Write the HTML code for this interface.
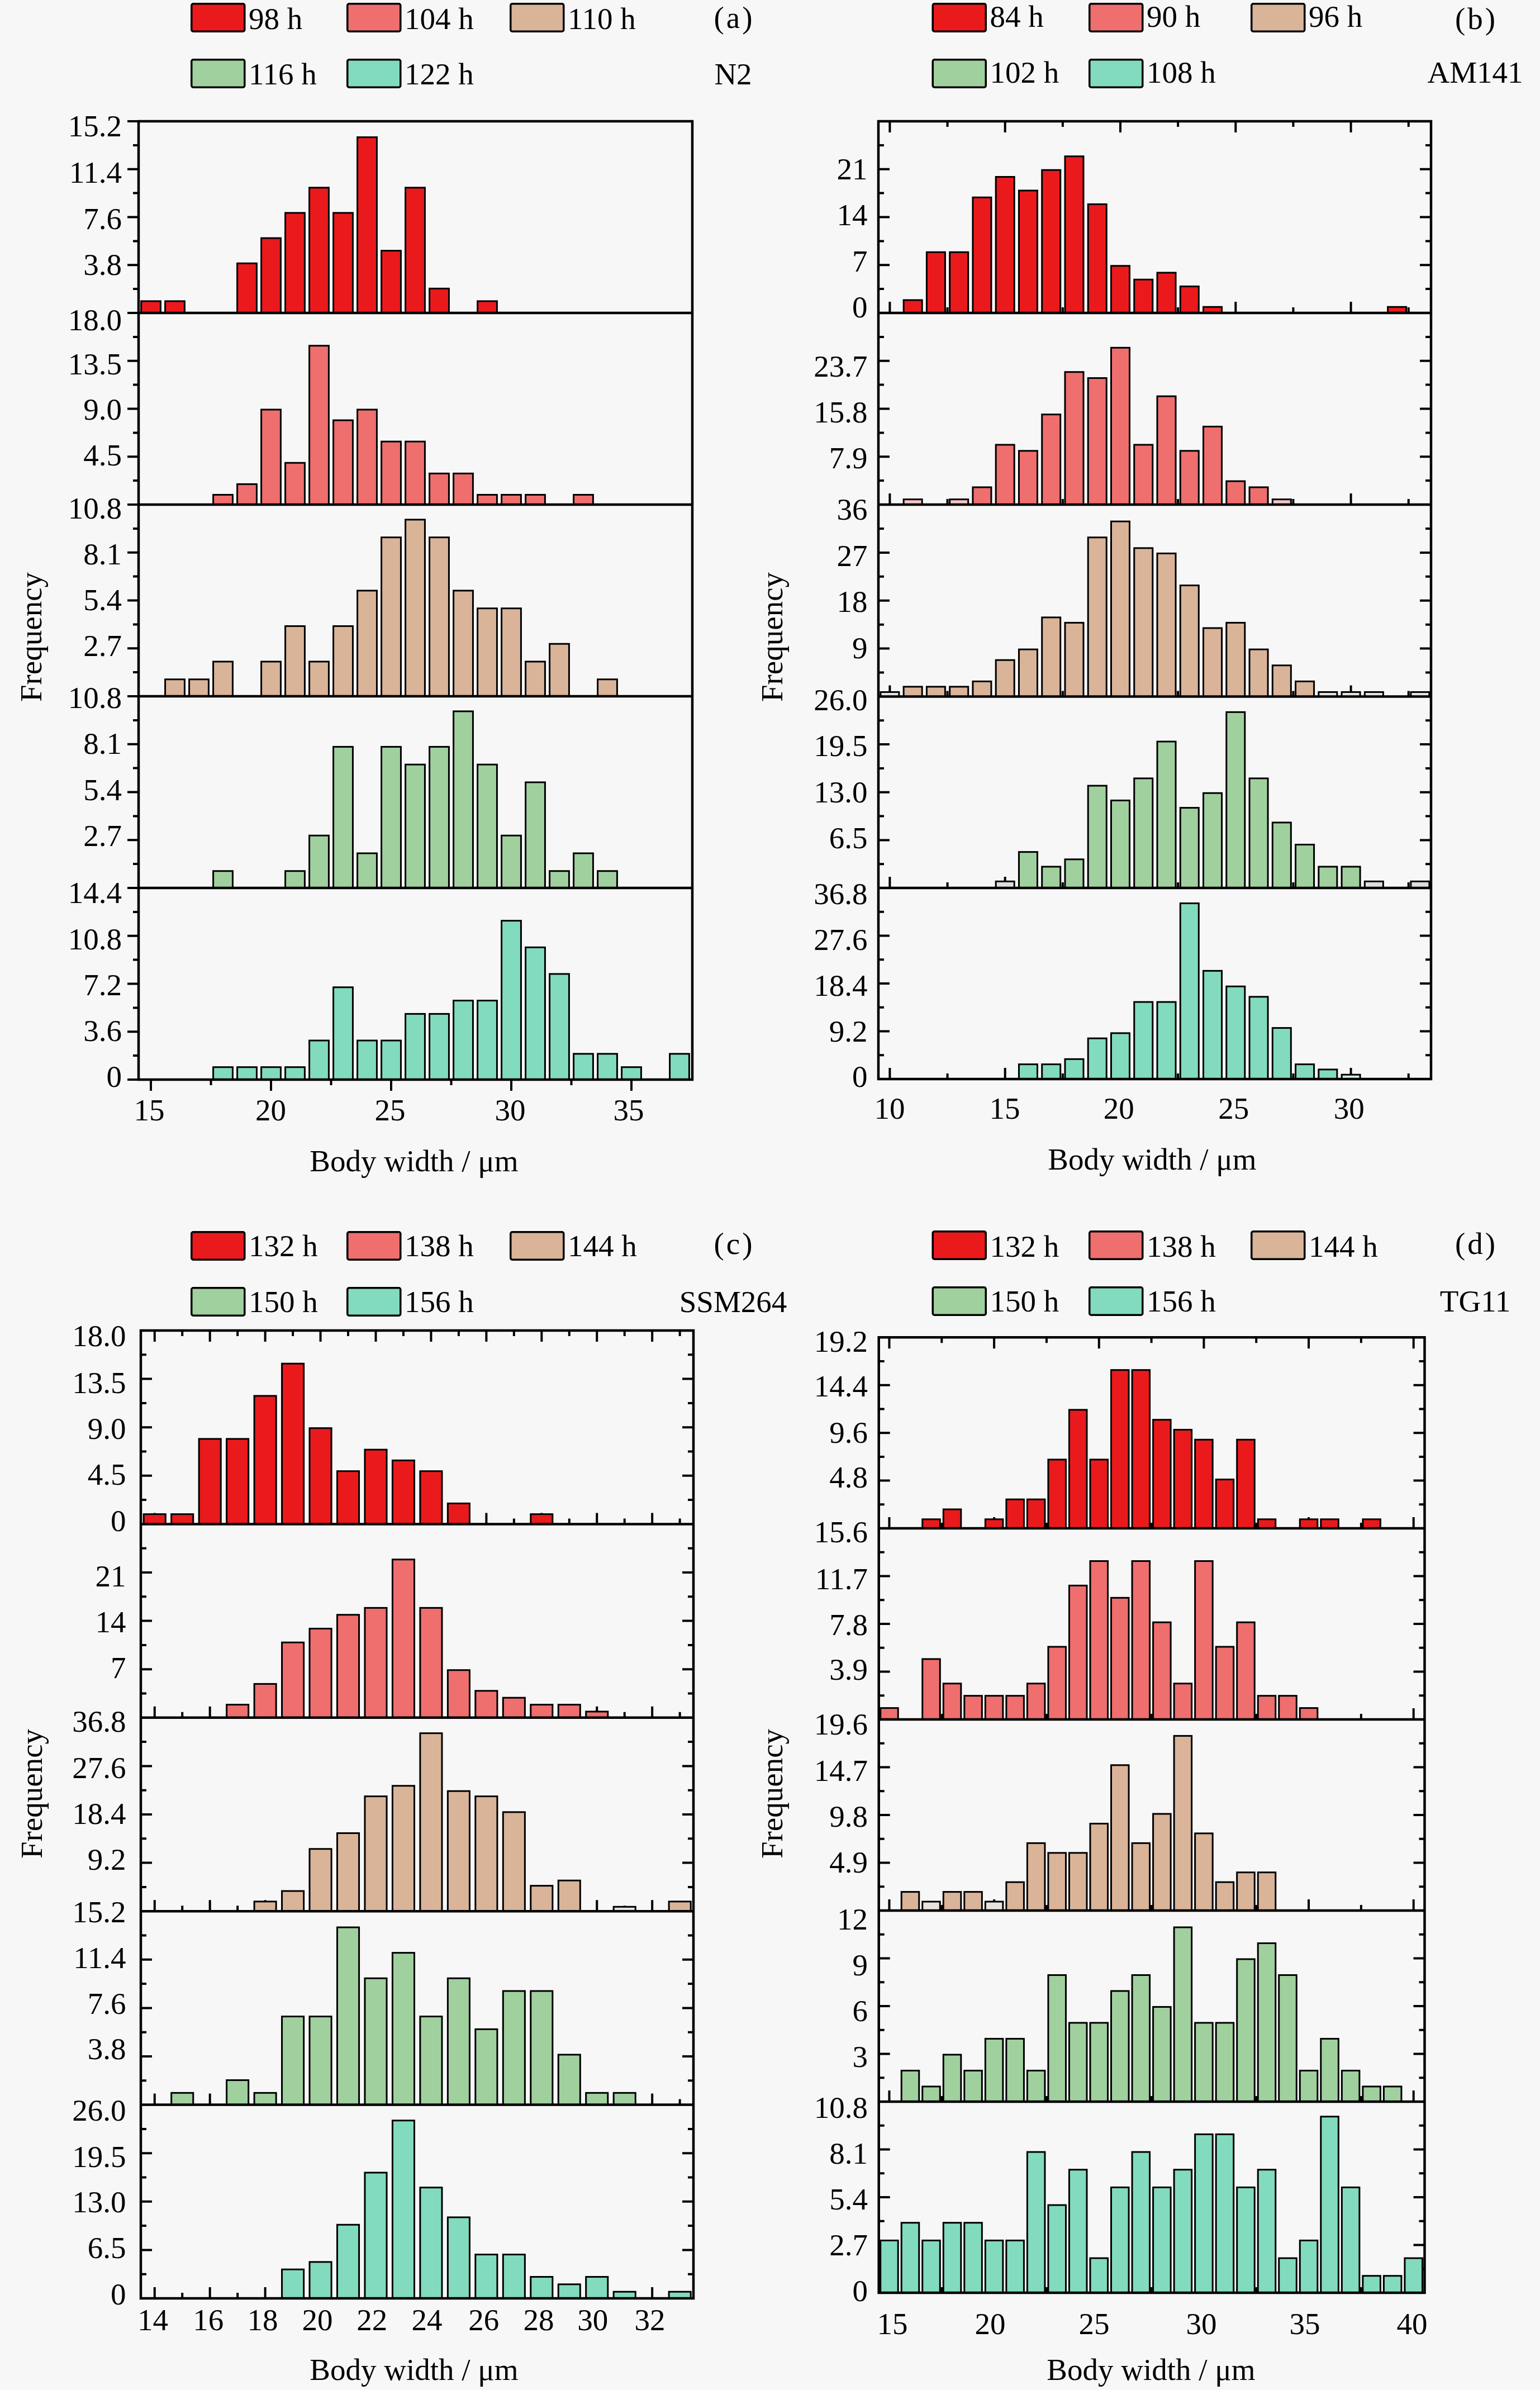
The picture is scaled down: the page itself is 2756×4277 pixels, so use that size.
<!DOCTYPE html><html><head><meta charset="utf-8"><style>html,body{margin:0;padding:0;background:#f7f7f7;}svg{display:block}</style></head><body>
<svg width="2756" height="4277" viewBox="0 0 2756 4277" style="font-family:'Liberation Serif',serif;font-size:55px">
<rect width="2756" height="4277" fill="#f7f7f7"/>
<path d="M248 560H228M248 517.12H238M248 474.25H228M248 431.38H238M248 388.5H228M248 345.62H238M248 302.75H228M248 259.88H238M248 217H228M248 903H228M248 860.12H238M248 817.25H228M248 774.38H238M248 731.5H228M248 688.62H238M248 645.75H228M248 602.88H238M248 560H228M248 1246H228M248 1203.12H238M248 1160.25H228M248 1117.38H238M248 1074.5H228M248 1031.62H238M248 988.75H228M248 945.88H238M248 903H228M248 1589H228M248 1546.12H238M248 1503.25H228M248 1460.38H238M248 1417.5H228M248 1374.62H238M248 1331.75H228M248 1288.88H238M248 1246H228M248 1932H228M248 1889.12H238M248 1846.25H228M248 1803.38H238M248 1760.5H228M248 1717.62H238M248 1674.75H228M248 1631.88H238M248 1589H228M270 1932V1952M485 1932V1952M700 1932V1952M915 1932V1952M1130 1932V1952M377.5 1932V1942M592.5 1932V1942M807.5 1932V1942M1022.5 1932V1942" stroke="#000" stroke-width="4" fill="none"/>
<rect x="252.59" y="538.93" width="34.83" height="21.07" fill="#ea1a1c" stroke="#000" stroke-width="3"/>
<rect x="295.58" y="538.93" width="34.83" height="21.07" fill="#ea1a1c" stroke="#000" stroke-width="3"/>
<rect x="424.58" y="471.24" width="34.83" height="88.76" fill="#ea1a1c" stroke="#000" stroke-width="3"/>
<rect x="467.58" y="426.11" width="34.83" height="133.89" fill="#ea1a1c" stroke="#000" stroke-width="3"/>
<rect x="510.58" y="380.97" width="34.83" height="179.03" fill="#ea1a1c" stroke="#000" stroke-width="3"/>
<rect x="553.59" y="335.84" width="34.83" height="224.16" fill="#ea1a1c" stroke="#000" stroke-width="3"/>
<rect x="596.59" y="380.97" width="34.83" height="179.03" fill="#ea1a1c" stroke="#000" stroke-width="3"/>
<rect x="639.59" y="245.58" width="34.83" height="314.42" fill="#ea1a1c" stroke="#000" stroke-width="3"/>
<rect x="682.59" y="448.67" width="34.83" height="111.33" fill="#ea1a1c" stroke="#000" stroke-width="3"/>
<rect x="725.59" y="335.84" width="34.83" height="224.16" fill="#ea1a1c" stroke="#000" stroke-width="3"/>
<rect x="768.59" y="516.37" width="34.83" height="43.63" fill="#ea1a1c" stroke="#000" stroke-width="3"/>
<rect x="854.59" y="538.93" width="34.83" height="21.07" fill="#ea1a1c" stroke="#000" stroke-width="3"/>
<rect x="381.58" y="885.44" width="34.83" height="17.56" fill="#ef6e6e" stroke="#000" stroke-width="3"/>
<rect x="424.58" y="866.39" width="34.83" height="36.61" fill="#ef6e6e" stroke="#000" stroke-width="3"/>
<rect x="467.58" y="733" width="34.83" height="170" fill="#ef6e6e" stroke="#000" stroke-width="3"/>
<rect x="510.58" y="828.28" width="34.83" height="74.72" fill="#ef6e6e" stroke="#000" stroke-width="3"/>
<rect x="553.59" y="618.67" width="34.83" height="284.33" fill="#ef6e6e" stroke="#000" stroke-width="3"/>
<rect x="596.59" y="752.06" width="34.83" height="150.94" fill="#ef6e6e" stroke="#000" stroke-width="3"/>
<rect x="639.59" y="733" width="34.83" height="170" fill="#ef6e6e" stroke="#000" stroke-width="3"/>
<rect x="682.59" y="790.17" width="34.83" height="112.83" fill="#ef6e6e" stroke="#000" stroke-width="3"/>
<rect x="725.59" y="790.17" width="34.83" height="112.83" fill="#ef6e6e" stroke="#000" stroke-width="3"/>
<rect x="768.59" y="847.33" width="34.83" height="55.67" fill="#ef6e6e" stroke="#000" stroke-width="3"/>
<rect x="811.59" y="847.33" width="34.83" height="55.67" fill="#ef6e6e" stroke="#000" stroke-width="3"/>
<rect x="854.59" y="885.44" width="34.83" height="17.56" fill="#ef6e6e" stroke="#000" stroke-width="3"/>
<rect x="897.59" y="885.44" width="34.83" height="17.56" fill="#ef6e6e" stroke="#000" stroke-width="3"/>
<rect x="940.59" y="885.44" width="34.83" height="17.56" fill="#ef6e6e" stroke="#000" stroke-width="3"/>
<rect x="1026.59" y="885.44" width="34.83" height="17.56" fill="#ef6e6e" stroke="#000" stroke-width="3"/>
<rect x="295.58" y="1215.74" width="34.83" height="30.26" fill="#d9b499" stroke="#000" stroke-width="3"/>
<rect x="338.58" y="1215.74" width="34.83" height="30.26" fill="#d9b499" stroke="#000" stroke-width="3"/>
<rect x="381.58" y="1183.98" width="34.83" height="62.02" fill="#d9b499" stroke="#000" stroke-width="3"/>
<rect x="467.58" y="1183.98" width="34.83" height="62.02" fill="#d9b499" stroke="#000" stroke-width="3"/>
<rect x="510.58" y="1120.46" width="34.83" height="125.54" fill="#d9b499" stroke="#000" stroke-width="3"/>
<rect x="553.59" y="1183.98" width="34.83" height="62.02" fill="#d9b499" stroke="#000" stroke-width="3"/>
<rect x="596.59" y="1120.46" width="34.83" height="125.54" fill="#d9b499" stroke="#000" stroke-width="3"/>
<rect x="639.59" y="1056.94" width="34.83" height="189.06" fill="#d9b499" stroke="#000" stroke-width="3"/>
<rect x="682.59" y="961.67" width="34.83" height="284.33" fill="#d9b499" stroke="#000" stroke-width="3"/>
<rect x="725.59" y="929.91" width="34.83" height="316.09" fill="#d9b499" stroke="#000" stroke-width="3"/>
<rect x="768.59" y="961.67" width="34.83" height="284.33" fill="#d9b499" stroke="#000" stroke-width="3"/>
<rect x="811.59" y="1056.94" width="34.83" height="189.06" fill="#d9b499" stroke="#000" stroke-width="3"/>
<rect x="854.59" y="1088.7" width="34.83" height="157.3" fill="#d9b499" stroke="#000" stroke-width="3"/>
<rect x="897.59" y="1088.7" width="34.83" height="157.3" fill="#d9b499" stroke="#000" stroke-width="3"/>
<rect x="940.59" y="1183.98" width="34.83" height="62.02" fill="#d9b499" stroke="#000" stroke-width="3"/>
<rect x="983.59" y="1152.22" width="34.83" height="93.78" fill="#d9b499" stroke="#000" stroke-width="3"/>
<rect x="1069.59" y="1215.74" width="34.83" height="30.26" fill="#d9b499" stroke="#000" stroke-width="3"/>
<rect x="381.58" y="1558.74" width="34.83" height="30.26" fill="#a0d09e" stroke="#000" stroke-width="3"/>
<rect x="510.58" y="1558.74" width="34.83" height="30.26" fill="#a0d09e" stroke="#000" stroke-width="3"/>
<rect x="553.59" y="1495.22" width="34.83" height="93.78" fill="#a0d09e" stroke="#000" stroke-width="3"/>
<rect x="596.59" y="1336.43" width="34.83" height="252.57" fill="#a0d09e" stroke="#000" stroke-width="3"/>
<rect x="639.59" y="1526.98" width="34.83" height="62.02" fill="#a0d09e" stroke="#000" stroke-width="3"/>
<rect x="682.59" y="1336.43" width="34.83" height="252.57" fill="#a0d09e" stroke="#000" stroke-width="3"/>
<rect x="725.59" y="1368.19" width="34.83" height="220.81" fill="#a0d09e" stroke="#000" stroke-width="3"/>
<rect x="768.59" y="1336.43" width="34.83" height="252.57" fill="#a0d09e" stroke="#000" stroke-width="3"/>
<rect x="811.59" y="1272.91" width="34.83" height="316.09" fill="#a0d09e" stroke="#000" stroke-width="3"/>
<rect x="854.59" y="1368.19" width="34.83" height="220.81" fill="#a0d09e" stroke="#000" stroke-width="3"/>
<rect x="897.59" y="1495.22" width="34.83" height="93.78" fill="#a0d09e" stroke="#000" stroke-width="3"/>
<rect x="940.59" y="1399.94" width="34.83" height="189.06" fill="#a0d09e" stroke="#000" stroke-width="3"/>
<rect x="983.59" y="1558.74" width="34.83" height="30.26" fill="#a0d09e" stroke="#000" stroke-width="3"/>
<rect x="1026.59" y="1526.98" width="34.83" height="62.02" fill="#a0d09e" stroke="#000" stroke-width="3"/>
<rect x="1069.59" y="1558.74" width="34.83" height="30.26" fill="#a0d09e" stroke="#000" stroke-width="3"/>
<rect x="381.58" y="1909.68" width="34.83" height="22.32" fill="#82dbbe" stroke="#000" stroke-width="3"/>
<rect x="424.58" y="1909.68" width="34.83" height="22.32" fill="#82dbbe" stroke="#000" stroke-width="3"/>
<rect x="467.58" y="1909.68" width="34.83" height="22.32" fill="#82dbbe" stroke="#000" stroke-width="3"/>
<rect x="510.58" y="1909.68" width="34.83" height="22.32" fill="#82dbbe" stroke="#000" stroke-width="3"/>
<rect x="553.59" y="1862.04" width="34.83" height="69.96" fill="#82dbbe" stroke="#000" stroke-width="3"/>
<rect x="596.59" y="1766.76" width="34.83" height="165.24" fill="#82dbbe" stroke="#000" stroke-width="3"/>
<rect x="639.59" y="1862.04" width="34.83" height="69.96" fill="#82dbbe" stroke="#000" stroke-width="3"/>
<rect x="682.59" y="1862.04" width="34.83" height="69.96" fill="#82dbbe" stroke="#000" stroke-width="3"/>
<rect x="725.59" y="1814.4" width="34.83" height="117.6" fill="#82dbbe" stroke="#000" stroke-width="3"/>
<rect x="768.59" y="1814.4" width="34.83" height="117.6" fill="#82dbbe" stroke="#000" stroke-width="3"/>
<rect x="811.59" y="1790.58" width="34.83" height="141.42" fill="#82dbbe" stroke="#000" stroke-width="3"/>
<rect x="854.59" y="1790.58" width="34.83" height="141.42" fill="#82dbbe" stroke="#000" stroke-width="3"/>
<rect x="897.59" y="1647.67" width="34.83" height="284.33" fill="#82dbbe" stroke="#000" stroke-width="3"/>
<rect x="940.59" y="1695.31" width="34.83" height="236.69" fill="#82dbbe" stroke="#000" stroke-width="3"/>
<rect x="983.59" y="1742.94" width="34.83" height="189.06" fill="#82dbbe" stroke="#000" stroke-width="3"/>
<rect x="1026.59" y="1885.86" width="34.83" height="46.14" fill="#82dbbe" stroke="#000" stroke-width="3"/>
<rect x="1069.59" y="1885.86" width="34.83" height="46.14" fill="#82dbbe" stroke="#000" stroke-width="3"/>
<rect x="1112.59" y="1909.68" width="34.83" height="22.32" fill="#82dbbe" stroke="#000" stroke-width="3"/>
<rect x="1198.59" y="1885.86" width="34.83" height="46.14" fill="#82dbbe" stroke="#000" stroke-width="3"/>
<path d="M248 217H1239V1932H248ZM248 560H1239M248 903H1239M248 1246H1239M248 1589H1239" stroke="#000" stroke-width="4.5" fill="none" stroke-linejoin="miter"/>
<text x="218" y="243.8" text-anchor="end">15.2</text>
<text x="218" y="326.7" text-anchor="end">11.4</text>
<text x="218" y="409.5" text-anchor="end">7.6</text>
<text x="218" y="492" text-anchor="end">3.8</text>
<text x="218" y="591.1" text-anchor="end">18.0</text>
<text x="218" y="669.8" text-anchor="end">13.5</text>
<text x="218" y="751" text-anchor="end">9.0</text>
<text x="218" y="832.9" text-anchor="end">4.5</text>
<text x="218" y="927.9" text-anchor="end">10.8</text>
<text x="218" y="1009.7" text-anchor="end">8.1</text>
<text x="218" y="1091.7" text-anchor="end">5.4</text>
<text x="218" y="1173.7" text-anchor="end">2.7</text>
<text x="218" y="1267.4" text-anchor="end">10.8</text>
<text x="218" y="1349.4" text-anchor="end">8.1</text>
<text x="218" y="1431.9" text-anchor="end">5.4</text>
<text x="218" y="1514.3" text-anchor="end">2.7</text>
<text x="218" y="1616.3" text-anchor="end">14.4</text>
<text x="218" y="1699.1" text-anchor="end">10.8</text>
<text x="218" y="1781" text-anchor="end">7.2</text>
<text x="218" y="1863.1" text-anchor="end">3.6</text>
<text x="218" y="1944.7" text-anchor="end">0</text>
<text x="267" y="2005" text-anchor="middle">15</text>
<text x="484.6" y="2005" text-anchor="middle">20</text>
<text x="698" y="2005" text-anchor="middle">25</text>
<text x="913" y="2005" text-anchor="middle">30</text>
<text x="1125" y="2005" text-anchor="middle">35</text>
<text x="741" y="2096" text-anchor="middle">Body width / μm</text>
<text transform="translate(74 1140) rotate(-90)" text-anchor="middle">Frequency</text>
<rect x="342.75" y="6.75" width="95" height="49.5" rx="3" fill="#ea1a1c" stroke="#000" stroke-width="3.5"/>
<text x="445" y="52">98 h</text>
<rect x="621.75" y="6.75" width="95" height="49.5" rx="3" fill="#ef6e6e" stroke="#000" stroke-width="3.5"/>
<text x="724" y="52">104 h</text>
<rect x="913.75" y="6.75" width="95" height="49.5" rx="3" fill="#d9b499" stroke="#000" stroke-width="3.5"/>
<text x="1016" y="52">110 h</text>
<rect x="342.75" y="106.75" width="95" height="49.5" rx="3" fill="#a0d09e" stroke="#000" stroke-width="3.5"/>
<text x="445" y="151">116 h</text>
<rect x="621.75" y="106.75" width="95" height="49.5" rx="3" fill="#82dbbe" stroke="#000" stroke-width="3.5"/>
<text x="724" y="151">122 h</text>
<text x="1314" y="50" text-anchor="middle" letter-spacing="4">(a)</text>
<text x="1312" y="151" text-anchor="middle">N2</text>
<path d="M1572 517.12H1582M2561 517.12H2551M1572 474.25H1592M2561 474.25H2541M1572 431.38H1582M2561 431.38H2551M1572 388.5H1592M2561 388.5H2541M1572 345.62H1582M2561 345.62H2551M1572 302.75H1592M2561 302.75H2541M1572 259.88H1582M2561 259.88H2551M1592.4 560V540M1592.4 217V237M1798.7 560V540M1798.7 217V237M2005 560V540M2005 217V237M2211.3 560V540M2211.3 217V237M2417.6 560V540M2417.6 217V237M1695.55 560V550M1695.55 217V227M1901.85 560V550M1901.85 217V227M2108.15 560V550M2108.15 217V227M2314.45 560V550M2314.45 217V227M2520.75 560V550M2520.75 217V227M1572 860.12H1582M2561 860.12H2551M1572 817.25H1592M2561 817.25H2541M1572 774.38H1582M2561 774.38H2551M1572 731.5H1592M2561 731.5H2541M1572 688.62H1582M2561 688.62H2551M1572 645.75H1592M2561 645.75H2541M1572 602.88H1582M2561 602.88H2551M1592.4 903V883M1798.7 903V883M2005 903V883M2211.3 903V883M2417.6 903V883M1695.55 903V893M1901.85 903V893M2108.15 903V893M2314.45 903V893M2520.75 903V893M1572 1203.56H1582M2561 1203.56H2551M1572 1160.62H1592M2561 1160.62H2541M1572 1117.69H1582M2561 1117.69H2551M1572 1074.75H1592M2561 1074.75H2541M1572 1031.81H1582M2561 1031.81H2551M1572 988.88H1592M2561 988.88H2541M1572 945.94H1582M2561 945.94H2551M1592.4 1246.5V1226.5M1798.7 1246.5V1226.5M2005 1246.5V1226.5M2211.3 1246.5V1226.5M2417.6 1246.5V1226.5M1695.55 1246.5V1236.5M1901.85 1246.5V1236.5M2108.15 1246.5V1236.5M2314.45 1246.5V1236.5M2520.75 1246.5V1236.5M1572 1546.19H1582M2561 1546.19H2551M1572 1503.38H1592M2561 1503.38H2541M1572 1460.56H1582M2561 1460.56H2551M1572 1417.75H1592M2561 1417.75H2541M1572 1374.94H1582M2561 1374.94H2551M1572 1332.12H1592M2561 1332.12H2541M1572 1289.31H1582M2561 1289.31H2551M1592.4 1589V1569M1798.7 1589V1569M2005 1589V1569M2211.3 1589V1569M2417.6 1589V1569M1695.55 1589V1579M1901.85 1589V1579M2108.15 1589V1579M2314.45 1589V1579M2520.75 1589V1579M1572 1888.25H1582M2561 1888.25H2551M1572 1845.5H1592M2561 1845.5H2541M1572 1802.75H1582M2561 1802.75H2551M1572 1760H1592M2561 1760H2541M1572 1717.25H1582M2561 1717.25H2551M1572 1674.5H1592M2561 1674.5H2541M1572 1631.75H1582M2561 1631.75H2551M1592.4 1931V1911M1798.7 1931V1911M2005 1931V1911M2211.3 1931V1911M2417.6 1931V1911M1695.55 1931V1921M1901.85 1931V1921M2108.15 1931V1921M2314.45 1931V1921M2520.75 1931V1921" stroke="#000" stroke-width="4" fill="none"/>
<rect x="1617.16" y="537" width="33.01" height="23" fill="#ea1a1c" stroke="#000" stroke-width="3"/>
<rect x="1658.42" y="451.25" width="33.01" height="108.75" fill="#ea1a1c" stroke="#000" stroke-width="3"/>
<rect x="1699.68" y="451.25" width="33.01" height="108.75" fill="#ea1a1c" stroke="#000" stroke-width="3"/>
<rect x="1740.94" y="353.25" width="33.01" height="206.75" fill="#ea1a1c" stroke="#000" stroke-width="3"/>
<rect x="1782.2" y="316.5" width="33.01" height="243.5" fill="#ea1a1c" stroke="#000" stroke-width="3"/>
<rect x="1823.46" y="341" width="33.01" height="219" fill="#ea1a1c" stroke="#000" stroke-width="3"/>
<rect x="1864.72" y="304.25" width="33.01" height="255.75" fill="#ea1a1c" stroke="#000" stroke-width="3"/>
<rect x="1905.98" y="279.75" width="33.01" height="280.25" fill="#ea1a1c" stroke="#000" stroke-width="3"/>
<rect x="1947.24" y="365.5" width="33.01" height="194.5" fill="#ea1a1c" stroke="#000" stroke-width="3"/>
<rect x="1988.5" y="475.75" width="33.01" height="84.25" fill="#ea1a1c" stroke="#000" stroke-width="3"/>
<rect x="2029.76" y="500.25" width="33.01" height="59.75" fill="#ea1a1c" stroke="#000" stroke-width="3"/>
<rect x="2071.02" y="488" width="33.01" height="72" fill="#ea1a1c" stroke="#000" stroke-width="3"/>
<rect x="2112.28" y="512.5" width="33.01" height="47.5" fill="#ea1a1c" stroke="#000" stroke-width="3"/>
<rect x="2153.54" y="549.25" width="33.01" height="10.75" fill="#ea1a1c" stroke="#000" stroke-width="3"/>
<rect x="2483.62" y="549.25" width="33.01" height="10.75" fill="#ea1a1c" stroke="#000" stroke-width="3"/>
<rect x="1617.16" y="893.65" width="33.01" height="9.35" fill="#f4c4c4" stroke="#000" stroke-width="3"/>
<rect x="1699.68" y="893.65" width="33.01" height="9.35" fill="#f4c4c4" stroke="#000" stroke-width="3"/>
<rect x="1740.94" y="871.94" width="33.01" height="31.06" fill="#ef6e6e" stroke="#000" stroke-width="3"/>
<rect x="1782.2" y="795.96" width="33.01" height="107.04" fill="#ef6e6e" stroke="#000" stroke-width="3"/>
<rect x="1823.46" y="806.81" width="33.01" height="96.19" fill="#ef6e6e" stroke="#000" stroke-width="3"/>
<rect x="1864.72" y="741.68" width="33.01" height="161.32" fill="#ef6e6e" stroke="#000" stroke-width="3"/>
<rect x="1905.98" y="665.7" width="33.01" height="237.3" fill="#ef6e6e" stroke="#000" stroke-width="3"/>
<rect x="1947.24" y="676.56" width="33.01" height="226.44" fill="#ef6e6e" stroke="#000" stroke-width="3"/>
<rect x="1988.5" y="622.28" width="33.01" height="280.72" fill="#ef6e6e" stroke="#000" stroke-width="3"/>
<rect x="2029.76" y="795.96" width="33.01" height="107.04" fill="#ef6e6e" stroke="#000" stroke-width="3"/>
<rect x="2071.02" y="709.12" width="33.01" height="193.88" fill="#ef6e6e" stroke="#000" stroke-width="3"/>
<rect x="2112.28" y="806.81" width="33.01" height="96.19" fill="#ef6e6e" stroke="#000" stroke-width="3"/>
<rect x="2153.54" y="763.39" width="33.01" height="139.61" fill="#ef6e6e" stroke="#000" stroke-width="3"/>
<rect x="2194.8" y="861.08" width="33.01" height="41.92" fill="#ef6e6e" stroke="#000" stroke-width="3"/>
<rect x="2236.06" y="871.94" width="33.01" height="31.06" fill="#ef6e6e" stroke="#000" stroke-width="3"/>
<rect x="2277.32" y="893.65" width="33.01" height="9.35" fill="#f4c4c4" stroke="#000" stroke-width="3"/>
<rect x="1575.9" y="1238.46" width="33.01" height="8.04" fill="#e8e2dc" stroke="#000" stroke-width="3"/>
<rect x="1617.16" y="1228.92" width="33.01" height="17.58" fill="#d9b499" stroke="#000" stroke-width="3"/>
<rect x="1658.42" y="1228.92" width="33.01" height="17.58" fill="#d9b499" stroke="#000" stroke-width="3"/>
<rect x="1699.68" y="1228.92" width="33.01" height="17.58" fill="#d9b499" stroke="#000" stroke-width="3"/>
<rect x="1740.94" y="1219.38" width="33.01" height="27.12" fill="#d9b499" stroke="#000" stroke-width="3"/>
<rect x="1782.2" y="1181.21" width="33.01" height="65.29" fill="#d9b499" stroke="#000" stroke-width="3"/>
<rect x="1823.46" y="1162.12" width="33.01" height="84.38" fill="#d9b499" stroke="#000" stroke-width="3"/>
<rect x="1864.72" y="1104.88" width="33.01" height="141.62" fill="#d9b499" stroke="#000" stroke-width="3"/>
<rect x="1905.98" y="1114.42" width="33.01" height="132.08" fill="#d9b499" stroke="#000" stroke-width="3"/>
<rect x="1947.24" y="961.75" width="33.01" height="284.75" fill="#d9b499" stroke="#000" stroke-width="3"/>
<rect x="1988.5" y="933.12" width="33.01" height="313.38" fill="#d9b499" stroke="#000" stroke-width="3"/>
<rect x="2029.76" y="980.83" width="33.01" height="265.67" fill="#d9b499" stroke="#000" stroke-width="3"/>
<rect x="2071.02" y="990.38" width="33.01" height="256.12" fill="#d9b499" stroke="#000" stroke-width="3"/>
<rect x="2112.28" y="1047.62" width="33.01" height="198.88" fill="#d9b499" stroke="#000" stroke-width="3"/>
<rect x="2153.54" y="1123.96" width="33.01" height="122.54" fill="#d9b499" stroke="#000" stroke-width="3"/>
<rect x="2194.8" y="1114.42" width="33.01" height="132.08" fill="#d9b499" stroke="#000" stroke-width="3"/>
<rect x="2236.06" y="1162.12" width="33.01" height="84.38" fill="#d9b499" stroke="#000" stroke-width="3"/>
<rect x="2277.32" y="1190.75" width="33.01" height="55.75" fill="#d9b499" stroke="#000" stroke-width="3"/>
<rect x="2318.58" y="1219.38" width="33.01" height="27.12" fill="#d9b499" stroke="#000" stroke-width="3"/>
<rect x="2359.84" y="1238.46" width="33.01" height="8.04" fill="#e8e2dc" stroke="#000" stroke-width="3"/>
<rect x="2401.1" y="1238.46" width="33.01" height="8.04" fill="#e8e2dc" stroke="#000" stroke-width="3"/>
<rect x="2442.36" y="1238.46" width="33.01" height="8.04" fill="#e8e2dc" stroke="#000" stroke-width="3"/>
<rect x="2524.88" y="1238.46" width="33.01" height="8.04" fill="#e8e2dc" stroke="#000" stroke-width="3"/>
<rect x="1782.2" y="1577.33" width="33.01" height="11.67" fill="#dcdedc" stroke="#000" stroke-width="3"/>
<rect x="1823.46" y="1524.63" width="33.01" height="64.37" fill="#a0d09e" stroke="#000" stroke-width="3"/>
<rect x="1864.72" y="1550.98" width="33.01" height="38.02" fill="#a0d09e" stroke="#000" stroke-width="3"/>
<rect x="1905.98" y="1537.81" width="33.01" height="51.19" fill="#a0d09e" stroke="#000" stroke-width="3"/>
<rect x="1947.24" y="1406.08" width="33.01" height="182.92" fill="#a0d09e" stroke="#000" stroke-width="3"/>
<rect x="1988.5" y="1432.42" width="33.01" height="156.58" fill="#a0d09e" stroke="#000" stroke-width="3"/>
<rect x="2029.76" y="1392.9" width="33.01" height="196.1" fill="#a0d09e" stroke="#000" stroke-width="3"/>
<rect x="2071.02" y="1327.04" width="33.01" height="261.96" fill="#a0d09e" stroke="#000" stroke-width="3"/>
<rect x="2112.28" y="1445.6" width="33.01" height="143.4" fill="#a0d09e" stroke="#000" stroke-width="3"/>
<rect x="2153.54" y="1419.25" width="33.01" height="169.75" fill="#a0d09e" stroke="#000" stroke-width="3"/>
<rect x="2194.8" y="1274.35" width="33.01" height="314.65" fill="#a0d09e" stroke="#000" stroke-width="3"/>
<rect x="2236.06" y="1392.9" width="33.01" height="196.1" fill="#a0d09e" stroke="#000" stroke-width="3"/>
<rect x="2277.32" y="1471.94" width="33.01" height="117.06" fill="#a0d09e" stroke="#000" stroke-width="3"/>
<rect x="2318.58" y="1511.46" width="33.01" height="77.54" fill="#a0d09e" stroke="#000" stroke-width="3"/>
<rect x="2359.84" y="1550.98" width="33.01" height="38.02" fill="#a0d09e" stroke="#000" stroke-width="3"/>
<rect x="2401.1" y="1550.98" width="33.01" height="38.02" fill="#a0d09e" stroke="#000" stroke-width="3"/>
<rect x="2442.36" y="1577.33" width="33.01" height="11.67" fill="#dcdedc" stroke="#000" stroke-width="3"/>
<rect x="2524.88" y="1577.33" width="33.01" height="11.67" fill="#dcdedc" stroke="#000" stroke-width="3"/>
<rect x="1823.46" y="1904.62" width="33.01" height="26.38" fill="#82dbbe" stroke="#000" stroke-width="3"/>
<rect x="1864.72" y="1904.62" width="33.01" height="26.38" fill="#82dbbe" stroke="#000" stroke-width="3"/>
<rect x="1905.98" y="1895.33" width="33.01" height="35.67" fill="#82dbbe" stroke="#000" stroke-width="3"/>
<rect x="1947.24" y="1858.15" width="33.01" height="72.85" fill="#82dbbe" stroke="#000" stroke-width="3"/>
<rect x="1988.5" y="1848.86" width="33.01" height="82.14" fill="#82dbbe" stroke="#000" stroke-width="3"/>
<rect x="2029.76" y="1793.1" width="33.01" height="137.9" fill="#82dbbe" stroke="#000" stroke-width="3"/>
<rect x="2071.02" y="1793.1" width="33.01" height="137.9" fill="#82dbbe" stroke="#000" stroke-width="3"/>
<rect x="2112.28" y="1616.52" width="33.01" height="314.48" fill="#82dbbe" stroke="#000" stroke-width="3"/>
<rect x="2153.54" y="1737.34" width="33.01" height="193.66" fill="#82dbbe" stroke="#000" stroke-width="3"/>
<rect x="2194.8" y="1765.22" width="33.01" height="165.78" fill="#82dbbe" stroke="#000" stroke-width="3"/>
<rect x="2236.06" y="1783.8" width="33.01" height="147.2" fill="#82dbbe" stroke="#000" stroke-width="3"/>
<rect x="2277.32" y="1839.57" width="33.01" height="91.43" fill="#82dbbe" stroke="#000" stroke-width="3"/>
<rect x="2318.58" y="1904.62" width="33.01" height="26.38" fill="#82dbbe" stroke="#000" stroke-width="3"/>
<rect x="2359.84" y="1913.91" width="33.01" height="17.09" fill="#82dbbe" stroke="#000" stroke-width="3"/>
<rect x="2401.1" y="1923.21" width="33.01" height="7.79" fill="#d4ece4" stroke="#000" stroke-width="3"/>
<path d="M1572 217H2561V1931H1572ZM1572 560H2561M1572 903H2561M1572 1246.5H2561M1572 1589H2561" stroke="#000" stroke-width="4.5" fill="none" stroke-linejoin="miter"/>
<text x="1552.5" y="320.5" text-anchor="end">21</text>
<text x="1552.5" y="403" text-anchor="end">14</text>
<text x="1552.5" y="486.3" text-anchor="end">7</text>
<text x="1552.5" y="568.3" text-anchor="end">0</text>
<text x="1552.5" y="673.8" text-anchor="end">23.7</text>
<text x="1552.5" y="755.9" text-anchor="end">15.8</text>
<text x="1552.5" y="838.3" text-anchor="end">7.9</text>
<text x="1552.5" y="930.3" text-anchor="end">36</text>
<text x="1552.5" y="1012.8" text-anchor="end">27</text>
<text x="1552.5" y="1094.9" text-anchor="end">18</text>
<text x="1552.5" y="1177.7" text-anchor="end">9</text>
<text x="1552.5" y="1270.6" text-anchor="end">26.0</text>
<text x="1552.5" y="1352.6" text-anchor="end">19.5</text>
<text x="1552.5" y="1435.5" text-anchor="end">13.0</text>
<text x="1552.5" y="1517.6" text-anchor="end">6.5</text>
<text x="1552.5" y="1617.9" text-anchor="end">36.8</text>
<text x="1552.5" y="1699.9" text-anchor="end">27.6</text>
<text x="1552.5" y="1781.9" text-anchor="end">18.4</text>
<text x="1552.5" y="1863.9" text-anchor="end">9.2</text>
<text x="1552.5" y="1945.1" text-anchor="end">0</text>
<text x="1592" y="2002" text-anchor="middle">10</text>
<text x="1798" y="2002" text-anchor="middle">15</text>
<text x="2002.3" y="2002" text-anchor="middle">20</text>
<text x="2207.7" y="2002" text-anchor="middle">25</text>
<text x="2414.3" y="2002" text-anchor="middle">30</text>
<text x="2062" y="2093" text-anchor="middle">Body width / μm</text>
<text transform="translate(1400 1140) rotate(-90)" text-anchor="middle">Frequency</text>
<rect x="1669.25" y="6.75" width="95" height="49.5" rx="3" fill="#ea1a1c" stroke="#000" stroke-width="3.5"/>
<text x="1771.5" y="48">84 h</text>
<rect x="1949.75" y="6.75" width="95" height="49.5" rx="3" fill="#ef6e6e" stroke="#000" stroke-width="3.5"/>
<text x="2052" y="48">90 h</text>
<rect x="2239.75" y="6.75" width="95" height="49.5" rx="3" fill="#d9b499" stroke="#000" stroke-width="3.5"/>
<text x="2342" y="48">96 h</text>
<rect x="1669.25" y="106.75" width="95" height="49.5" rx="3" fill="#a0d09e" stroke="#000" stroke-width="3.5"/>
<text x="1771.5" y="148">102 h</text>
<rect x="1949.75" y="106.75" width="95" height="49.5" rx="3" fill="#82dbbe" stroke="#000" stroke-width="3.5"/>
<text x="2052" y="148">108 h</text>
<text x="2642" y="52" text-anchor="middle" letter-spacing="4">(b)</text>
<text x="2640" y="148" text-anchor="middle">AM141</text>
<path d="M252 2684.1H262M1241 2684.1H1231M252 2640.8H272M1241 2640.8H1221M252 2597.5H262M1241 2597.5H1231M252 2554.2H272M1241 2554.2H1221M252 2510.9H262M1241 2510.9H1231M252 2467.6H272M1241 2467.6H1221M252 2424.3H262M1241 2424.3H1231M276.74 2727.4V2707.4M276.74 2381V2401M375.68 2727.4V2707.4M375.68 2381V2401M474.62 2727.4V2707.4M474.62 2381V2401M573.56 2727.4V2707.4M573.56 2381V2401M672.5 2727.4V2707.4M672.5 2381V2401M771.43 2727.4V2707.4M771.43 2381V2401M870.38 2727.4V2707.4M870.38 2381V2401M969.31 2727.4V2707.4M969.31 2381V2401M1068.26 2727.4V2707.4M1068.26 2381V2401M1167.19 2727.4V2707.4M1167.19 2381V2401M326.2 2727.4V2717.4M326.2 2381V2391M425.14 2727.4V2717.4M425.14 2381V2391M524.09 2727.4V2717.4M524.09 2381V2391M623.02 2727.4V2717.4M623.02 2381V2391M721.96 2727.4V2717.4M721.96 2381V2391M820.9 2727.4V2717.4M820.9 2381V2391M919.85 2727.4V2717.4M919.85 2381V2391M1018.78 2727.4V2717.4M1018.78 2381V2391M1117.72 2727.4V2717.4M1117.72 2381V2391M1216.66 2727.4V2717.4M1216.66 2381V2391M252 3030.5H262M1241 3030.5H1231M252 2987.2H272M1241 2987.2H1221M252 2943.9H262M1241 2943.9H1231M252 2900.6H272M1241 2900.6H1221M252 2857.3H262M1241 2857.3H1231M252 2814H272M1241 2814H1221M252 2770.7H262M1241 2770.7H1231M276.74 3073.8V3053.8M375.68 3073.8V3053.8M474.62 3073.8V3053.8M573.56 3073.8V3053.8M672.5 3073.8V3053.8M771.43 3073.8V3053.8M870.38 3073.8V3053.8M969.31 3073.8V3053.8M1068.26 3073.8V3053.8M1167.19 3073.8V3053.8M326.2 3073.8V3063.8M425.14 3073.8V3063.8M524.09 3073.8V3063.8M623.02 3073.8V3063.8M721.96 3073.8V3063.8M820.9 3073.8V3063.8M919.85 3073.8V3063.8M1018.78 3073.8V3063.8M1117.72 3073.8V3063.8M1216.66 3073.8V3063.8M252 3376.9H262M1241 3376.9H1231M252 3333.6H272M1241 3333.6H1221M252 3290.3H262M1241 3290.3H1231M252 3247H272M1241 3247H1221M252 3203.7H262M1241 3203.7H1231M252 3160.4H272M1241 3160.4H1221M252 3117.1H262M1241 3117.1H1231M276.74 3420.2V3400.2M375.68 3420.2V3400.2M474.62 3420.2V3400.2M573.56 3420.2V3400.2M672.5 3420.2V3400.2M771.43 3420.2V3400.2M870.38 3420.2V3400.2M969.31 3420.2V3400.2M1068.26 3420.2V3400.2M1167.19 3420.2V3400.2M326.2 3420.2V3410.2M425.14 3420.2V3410.2M524.09 3420.2V3410.2M623.02 3420.2V3410.2M721.96 3420.2V3410.2M820.9 3420.2V3410.2M919.85 3420.2V3410.2M1018.78 3420.2V3410.2M1117.72 3420.2V3410.2M1216.66 3420.2V3410.2M252 3723.3H262M1241 3723.3H1231M252 3680H272M1241 3680H1221M252 3636.7H262M1241 3636.7H1231M252 3593.4H272M1241 3593.4H1221M252 3550.1H262M1241 3550.1H1231M252 3506.8H272M1241 3506.8H1221M252 3463.5H262M1241 3463.5H1231M276.74 3766.6V3746.6M375.68 3766.6V3746.6M474.62 3766.6V3746.6M573.56 3766.6V3746.6M672.5 3766.6V3746.6M771.43 3766.6V3746.6M870.38 3766.6V3746.6M969.31 3766.6V3746.6M1068.26 3766.6V3746.6M1167.19 3766.6V3746.6M326.2 3766.6V3756.6M425.14 3766.6V3756.6M524.09 3766.6V3756.6M623.02 3766.6V3756.6M721.96 3766.6V3756.6M820.9 3766.6V3756.6M919.85 3766.6V3756.6M1018.78 3766.6V3756.6M1117.72 3766.6V3756.6M1216.66 3766.6V3756.6M252 4069.7H262M1241 4069.7H1231M252 4026.4H272M1241 4026.4H1221M252 3983.1H262M1241 3983.1H1231M252 3939.8H272M1241 3939.8H1221M252 3896.5H262M1241 3896.5H1231M252 3853.2H272M1241 3853.2H1221M252 3809.9H262M1241 3809.9H1231M276.74 4113V4093M375.68 4113V4093M474.62 4113V4093M573.56 4113V4093M672.5 4113V4093M771.43 4113V4093M870.38 4113V4093M969.31 4113V4093M1068.26 4113V4093M1167.19 4113V4093M326.2 4113V4103M425.14 4113V4103M524.09 4113V4103M623.02 4113V4103M721.96 4113V4103M820.9 4113V4103M919.85 4113V4103M1018.78 4113V4103M1117.72 4113V4103M1216.66 4113V4103" stroke="#000" stroke-width="4" fill="none"/>
<rect x="257.19" y="2709.66" width="39.08" height="17.74" fill="#ea1a1c" stroke="#000" stroke-width="3"/>
<rect x="306.66" y="2709.66" width="39.08" height="17.74" fill="#ea1a1c" stroke="#000" stroke-width="3"/>
<rect x="356.13" y="2574.94" width="39.08" height="152.46" fill="#ea1a1c" stroke="#000" stroke-width="3"/>
<rect x="405.6" y="2574.94" width="39.08" height="152.46" fill="#ea1a1c" stroke="#000" stroke-width="3"/>
<rect x="455.07" y="2497.97" width="39.08" height="229.43" fill="#ea1a1c" stroke="#000" stroke-width="3"/>
<rect x="504.54" y="2440.23" width="39.08" height="287.17" fill="#ea1a1c" stroke="#000" stroke-width="3"/>
<rect x="554.01" y="2555.7" width="39.08" height="171.7" fill="#ea1a1c" stroke="#000" stroke-width="3"/>
<rect x="603.48" y="2632.68" width="39.08" height="94.72" fill="#ea1a1c" stroke="#000" stroke-width="3"/>
<rect x="652.95" y="2594.19" width="39.08" height="133.21" fill="#ea1a1c" stroke="#000" stroke-width="3"/>
<rect x="702.42" y="2613.43" width="39.08" height="113.97" fill="#ea1a1c" stroke="#000" stroke-width="3"/>
<rect x="751.89" y="2632.68" width="39.08" height="94.72" fill="#ea1a1c" stroke="#000" stroke-width="3"/>
<rect x="801.36" y="2690.41" width="39.08" height="36.99" fill="#ea1a1c" stroke="#000" stroke-width="3"/>
<rect x="949.77" y="2709.66" width="39.08" height="17.74" fill="#ea1a1c" stroke="#000" stroke-width="3"/>
<rect x="405.6" y="3050.56" width="39.08" height="23.24" fill="#ef6e6e" stroke="#000" stroke-width="3"/>
<rect x="455.07" y="3013.44" width="39.08" height="60.36" fill="#ef6e6e" stroke="#000" stroke-width="3"/>
<rect x="504.54" y="2939.21" width="39.08" height="134.59" fill="#ef6e6e" stroke="#000" stroke-width="3"/>
<rect x="554.01" y="2914.47" width="39.08" height="159.33" fill="#ef6e6e" stroke="#000" stroke-width="3"/>
<rect x="603.48" y="2889.73" width="39.08" height="184.07" fill="#ef6e6e" stroke="#000" stroke-width="3"/>
<rect x="652.95" y="2877.36" width="39.08" height="196.44" fill="#ef6e6e" stroke="#000" stroke-width="3"/>
<rect x="702.42" y="2790.76" width="39.08" height="283.04" fill="#ef6e6e" stroke="#000" stroke-width="3"/>
<rect x="751.89" y="2877.36" width="39.08" height="196.44" fill="#ef6e6e" stroke="#000" stroke-width="3"/>
<rect x="801.36" y="2988.7" width="39.08" height="85.1" fill="#ef6e6e" stroke="#000" stroke-width="3"/>
<rect x="850.83" y="3025.81" width="39.08" height="47.99" fill="#ef6e6e" stroke="#000" stroke-width="3"/>
<rect x="900.3" y="3038.19" width="39.08" height="35.61" fill="#ef6e6e" stroke="#000" stroke-width="3"/>
<rect x="949.77" y="3050.56" width="39.08" height="23.24" fill="#ef6e6e" stroke="#000" stroke-width="3"/>
<rect x="999.24" y="3050.56" width="39.08" height="23.24" fill="#ef6e6e" stroke="#000" stroke-width="3"/>
<rect x="1048.71" y="3062.93" width="39.08" height="10.87" fill="#ef6e6e" stroke="#000" stroke-width="3"/>
<rect x="455.07" y="3402.87" width="39.08" height="17.33" fill="#d9b499" stroke="#000" stroke-width="3"/>
<rect x="504.54" y="3384.05" width="39.08" height="36.15" fill="#d9b499" stroke="#000" stroke-width="3"/>
<rect x="554.01" y="3308.74" width="39.08" height="111.46" fill="#d9b499" stroke="#000" stroke-width="3"/>
<rect x="603.48" y="3280.5" width="39.08" height="139.7" fill="#d9b499" stroke="#000" stroke-width="3"/>
<rect x="652.95" y="3214.61" width="39.08" height="205.59" fill="#d9b499" stroke="#000" stroke-width="3"/>
<rect x="702.42" y="3195.79" width="39.08" height="224.41" fill="#d9b499" stroke="#000" stroke-width="3"/>
<rect x="751.89" y="3101.66" width="39.08" height="318.54" fill="#d9b499" stroke="#000" stroke-width="3"/>
<rect x="801.36" y="3205.2" width="39.08" height="215" fill="#d9b499" stroke="#000" stroke-width="3"/>
<rect x="850.83" y="3214.61" width="39.08" height="205.59" fill="#d9b499" stroke="#000" stroke-width="3"/>
<rect x="900.3" y="3242.85" width="39.08" height="177.35" fill="#d9b499" stroke="#000" stroke-width="3"/>
<rect x="949.77" y="3374.63" width="39.08" height="45.57" fill="#d9b499" stroke="#000" stroke-width="3"/>
<rect x="999.24" y="3365.22" width="39.08" height="54.98" fill="#d9b499" stroke="#000" stroke-width="3"/>
<rect x="1098.18" y="3412.29" width="39.08" height="7.91" fill="#e8e2dc" stroke="#000" stroke-width="3"/>
<rect x="1197.12" y="3402.87" width="39.08" height="17.33" fill="#d9b499" stroke="#000" stroke-width="3"/>
<rect x="306.66" y="3745.31" width="39.08" height="21.29" fill="#a0d09e" stroke="#000" stroke-width="3"/>
<rect x="405.6" y="3722.52" width="39.08" height="44.08" fill="#a0d09e" stroke="#000" stroke-width="3"/>
<rect x="455.07" y="3745.31" width="39.08" height="21.29" fill="#a0d09e" stroke="#000" stroke-width="3"/>
<rect x="504.54" y="3608.57" width="39.08" height="158.03" fill="#a0d09e" stroke="#000" stroke-width="3"/>
<rect x="554.01" y="3608.57" width="39.08" height="158.03" fill="#a0d09e" stroke="#000" stroke-width="3"/>
<rect x="603.48" y="3449.05" width="39.08" height="317.55" fill="#a0d09e" stroke="#000" stroke-width="3"/>
<rect x="652.95" y="3540.21" width="39.08" height="226.39" fill="#a0d09e" stroke="#000" stroke-width="3"/>
<rect x="702.42" y="3494.63" width="39.08" height="271.97" fill="#a0d09e" stroke="#000" stroke-width="3"/>
<rect x="751.89" y="3608.57" width="39.08" height="158.03" fill="#a0d09e" stroke="#000" stroke-width="3"/>
<rect x="801.36" y="3540.21" width="39.08" height="226.39" fill="#a0d09e" stroke="#000" stroke-width="3"/>
<rect x="850.83" y="3631.36" width="39.08" height="135.24" fill="#a0d09e" stroke="#000" stroke-width="3"/>
<rect x="900.3" y="3562.99" width="39.08" height="203.61" fill="#a0d09e" stroke="#000" stroke-width="3"/>
<rect x="949.77" y="3562.99" width="39.08" height="203.61" fill="#a0d09e" stroke="#000" stroke-width="3"/>
<rect x="999.24" y="3676.94" width="39.08" height="89.66" fill="#a0d09e" stroke="#000" stroke-width="3"/>
<rect x="1048.71" y="3745.31" width="39.08" height="21.29" fill="#a0d09e" stroke="#000" stroke-width="3"/>
<rect x="1098.18" y="3745.31" width="39.08" height="21.29" fill="#a0d09e" stroke="#000" stroke-width="3"/>
<rect x="504.54" y="4061.21" width="39.08" height="51.79" fill="#82dbbe" stroke="#000" stroke-width="3"/>
<rect x="554.01" y="4047.88" width="39.08" height="65.12" fill="#82dbbe" stroke="#000" stroke-width="3"/>
<rect x="603.48" y="3981.27" width="39.08" height="131.73" fill="#82dbbe" stroke="#000" stroke-width="3"/>
<rect x="652.95" y="3888.01" width="39.08" height="224.99" fill="#82dbbe" stroke="#000" stroke-width="3"/>
<rect x="702.42" y="3794.75" width="39.08" height="318.25" fill="#82dbbe" stroke="#000" stroke-width="3"/>
<rect x="751.89" y="3914.65" width="39.08" height="198.35" fill="#82dbbe" stroke="#000" stroke-width="3"/>
<rect x="801.36" y="3967.95" width="39.08" height="145.05" fill="#82dbbe" stroke="#000" stroke-width="3"/>
<rect x="850.83" y="4034.56" width="39.08" height="78.44" fill="#82dbbe" stroke="#000" stroke-width="3"/>
<rect x="900.3" y="4034.56" width="39.08" height="78.44" fill="#82dbbe" stroke="#000" stroke-width="3"/>
<rect x="949.77" y="4074.53" width="39.08" height="38.47" fill="#82dbbe" stroke="#000" stroke-width="3"/>
<rect x="999.24" y="4087.85" width="39.08" height="25.15" fill="#82dbbe" stroke="#000" stroke-width="3"/>
<rect x="1048.71" y="4074.53" width="39.08" height="38.47" fill="#82dbbe" stroke="#000" stroke-width="3"/>
<rect x="1098.18" y="4101.18" width="39.08" height="11.82" fill="#82dbbe" stroke="#000" stroke-width="3"/>
<rect x="1197.12" y="4101.18" width="39.08" height="11.82" fill="#82dbbe" stroke="#000" stroke-width="3"/>
<path d="M252 2381H1241V4113H252ZM252 2727.4H1241M252 3073.8H1241M252 3420.2H1241M252 3766.6H1241" stroke="#000" stroke-width="4.5" fill="none" stroke-linejoin="miter"/>
<text x="225.5" y="2408.9" text-anchor="end">18.0</text>
<text x="225.5" y="2492.5" text-anchor="end">13.5</text>
<text x="225.5" y="2574.5" text-anchor="end">9.0</text>
<text x="225.5" y="2657.4" text-anchor="end">4.5</text>
<text x="225.5" y="2739.9" text-anchor="end">0</text>
<text x="225.5" y="2838.5" text-anchor="end">21</text>
<text x="225.5" y="2920.5" text-anchor="end">14</text>
<text x="225.5" y="3003.4" text-anchor="end">7</text>
<text x="225.5" y="3099.2" text-anchor="end">36.8</text>
<text x="225.5" y="3182.3" text-anchor="end">27.6</text>
<text x="225.5" y="3264.3" text-anchor="end">18.4</text>
<text x="225.5" y="3345.5" text-anchor="end">9.2</text>
<text x="225.5" y="3439.8" text-anchor="end">15.2</text>
<text x="225.5" y="3521.7" text-anchor="end">11.4</text>
<text x="225.5" y="3604.1" text-anchor="end">7.6</text>
<text x="225.5" y="3685.3" text-anchor="end">3.8</text>
<text x="225.5" y="3794.7" text-anchor="end">26.0</text>
<text x="225.5" y="3877.6" text-anchor="end">19.5</text>
<text x="225.5" y="3958.7" text-anchor="end">13.0</text>
<text x="225.5" y="4040.7" text-anchor="end">6.5</text>
<text x="225.5" y="4124" text-anchor="end">0</text>
<text x="273.4" y="4170" text-anchor="middle">14</text>
<text x="372.7" y="4170" text-anchor="middle">16</text>
<text x="470" y="4170" text-anchor="middle">18</text>
<text x="568" y="4170" text-anchor="middle">20</text>
<text x="665.7" y="4170" text-anchor="middle">22</text>
<text x="764" y="4170" text-anchor="middle">24</text>
<text x="865.7" y="4170" text-anchor="middle">26</text>
<text x="964" y="4170" text-anchor="middle">28</text>
<text x="1060.7" y="4170" text-anchor="middle">30</text>
<text x="1162.9" y="4170" text-anchor="middle">32</text>
<text x="741" y="4259" text-anchor="middle">Body width / μm</text>
<text transform="translate(75 3210) rotate(-90)" text-anchor="middle">Frequency</text>
<rect x="342.75" y="2204.75" width="95" height="49.5" rx="3" fill="#ea1a1c" stroke="#000" stroke-width="3.5"/>
<text x="445" y="2248">132 h</text>
<rect x="621.75" y="2204.75" width="95" height="49.5" rx="3" fill="#ef6e6e" stroke="#000" stroke-width="3.5"/>
<text x="724" y="2248">138 h</text>
<rect x="913.75" y="2204.75" width="95" height="49.5" rx="3" fill="#d9b499" stroke="#000" stroke-width="3.5"/>
<text x="1016" y="2248">144 h</text>
<rect x="342.75" y="2304.75" width="95" height="49.5" rx="3" fill="#a0d09e" stroke="#000" stroke-width="3.5"/>
<text x="445" y="2348">150 h</text>
<rect x="621.75" y="2304.75" width="95" height="49.5" rx="3" fill="#82dbbe" stroke="#000" stroke-width="3.5"/>
<text x="724" y="2348">156 h</text>
<text x="1314" y="2244" text-anchor="middle" letter-spacing="4">(c)</text>
<text x="1312" y="2348" text-anchor="middle">SSM264</text>
<path d="M1572.7 2692.36H1582.7M2549.5 2692.36H2539.5M1572.7 2649.62H1592.7M2549.5 2649.62H2529.5M1572.7 2606.89H1582.7M2549.5 2606.89H2539.5M1572.7 2564.15H1592.7M2549.5 2564.15H2529.5M1572.7 2521.41H1582.7M2549.5 2521.41H2539.5M1572.7 2478.67H1592.7M2549.5 2478.67H2529.5M1572.7 2435.94H1582.7M2549.5 2435.94H2539.5M1591.47 2735.1V2715.1M1591.47 2393.2V2413.2M1779.12 2735.1V2715.1M1779.12 2393.2V2413.2M1966.77 2735.1V2715.1M1966.77 2393.2V2413.2M2154.41 2735.1V2715.1M2154.41 2393.2V2413.2M2342.07 2735.1V2715.1M2342.07 2393.2V2413.2M2529.72 2735.1V2715.1M2529.72 2393.2V2413.2M1685.29 2735.1V2725.1M1685.29 2393.2V2403.2M1872.94 2735.1V2725.1M1872.94 2393.2V2403.2M2060.59 2735.1V2725.1M2060.59 2393.2V2403.2M2248.24 2735.1V2725.1M2248.24 2393.2V2403.2M2435.89 2735.1V2725.1M2435.89 2393.2V2403.2M1572.7 3034.26H1582.7M2549.5 3034.26H2539.5M1572.7 2991.53H1592.7M2549.5 2991.53H2529.5M1572.7 2948.79H1582.7M2549.5 2948.79H2539.5M1572.7 2906.05H1592.7M2549.5 2906.05H2529.5M1572.7 2863.31H1582.7M2549.5 2863.31H2539.5M1572.7 2820.57H1592.7M2549.5 2820.57H2529.5M1572.7 2777.84H1582.7M2549.5 2777.84H2539.5M1591.47 3077V3057M1779.12 3077V3057M1966.77 3077V3057M2154.41 3077V3057M2342.07 3077V3057M2529.72 3077V3057M1685.29 3077V3067M1872.94 3077V3067M2060.59 3077V3067M2248.24 3077V3067M2435.89 3077V3067M1572.7 3376.25H1582.7M2549.5 3376.25H2539.5M1572.7 3333.5H1592.7M2549.5 3333.5H2529.5M1572.7 3290.75H1582.7M2549.5 3290.75H2539.5M1572.7 3248H1592.7M2549.5 3248H2529.5M1572.7 3205.25H1582.7M2549.5 3205.25H2539.5M1572.7 3162.5H1592.7M2549.5 3162.5H2529.5M1572.7 3119.75H1582.7M2549.5 3119.75H2539.5M1591.47 3419V3399M1779.12 3419V3399M1966.77 3419V3399M2154.41 3419V3399M2342.07 3419V3399M2529.72 3419V3399M1685.29 3419V3409M1872.94 3419V3409M2060.59 3419V3409M2248.24 3419V3409M2435.89 3419V3409M1572.7 3718.16H1582.7M2549.5 3718.16H2539.5M1572.7 3675.43H1592.7M2549.5 3675.43H2529.5M1572.7 3632.69H1582.7M2549.5 3632.69H2539.5M1572.7 3589.95H1592.7M2549.5 3589.95H2529.5M1572.7 3547.21H1582.7M2549.5 3547.21H2539.5M1572.7 3504.47H1592.7M2549.5 3504.47H2529.5M1572.7 3461.74H1582.7M2549.5 3461.74H2539.5M1591.47 3760.9V3740.9M1779.12 3760.9V3740.9M1966.77 3760.9V3740.9M2154.41 3760.9V3740.9M2342.07 3760.9V3740.9M2529.72 3760.9V3740.9M1685.29 3760.9V3750.9M1872.94 3760.9V3750.9M2060.59 3760.9V3750.9M2248.24 3760.9V3750.9M2435.89 3760.9V3750.9M1572.7 4060.15H1582.7M2549.5 4060.15H2539.5M1572.7 4017.4H1592.7M2549.5 4017.4H2529.5M1572.7 3974.65H1582.7M2549.5 3974.65H2539.5M1572.7 3931.9H1592.7M2549.5 3931.9H2529.5M1572.7 3889.15H1582.7M2549.5 3889.15H2539.5M1572.7 3846.4H1592.7M2549.5 3846.4H2529.5M1572.7 3803.65H1582.7M2549.5 3803.65H2539.5M1591.47 4102.9V4082.9M1779.12 4102.9V4082.9M1966.77 4102.9V4082.9M2154.41 4102.9V4082.9M2342.07 4102.9V4082.9M2529.72 4102.9V4082.9M1685.29 4102.9V4092.9M1872.94 4102.9V4092.9M2060.59 4102.9V4092.9M2248.24 4102.9V4092.9M2435.89 4102.9V4092.9" stroke="#000" stroke-width="4" fill="none"/>
<rect x="1650.76" y="2718.79" width="31.53" height="16.31" fill="#ea1a1c" stroke="#000" stroke-width="3"/>
<rect x="1688.29" y="2700.99" width="31.53" height="34.11" fill="#ea1a1c" stroke="#000" stroke-width="3"/>
<rect x="1763.35" y="2718.79" width="31.53" height="16.31" fill="#ea1a1c" stroke="#000" stroke-width="3"/>
<rect x="1800.88" y="2683.18" width="31.53" height="51.92" fill="#ea1a1c" stroke="#000" stroke-width="3"/>
<rect x="1838.41" y="2683.18" width="31.53" height="51.92" fill="#ea1a1c" stroke="#000" stroke-width="3"/>
<rect x="1875.94" y="2611.95" width="31.53" height="123.15" fill="#ea1a1c" stroke="#000" stroke-width="3"/>
<rect x="1913.47" y="2522.91" width="31.53" height="212.19" fill="#ea1a1c" stroke="#000" stroke-width="3"/>
<rect x="1951" y="2611.95" width="31.53" height="123.15" fill="#ea1a1c" stroke="#000" stroke-width="3"/>
<rect x="1988.53" y="2451.68" width="31.53" height="283.42" fill="#ea1a1c" stroke="#000" stroke-width="3"/>
<rect x="2026.06" y="2451.68" width="31.53" height="283.42" fill="#ea1a1c" stroke="#000" stroke-width="3"/>
<rect x="2063.59" y="2540.72" width="31.53" height="194.38" fill="#ea1a1c" stroke="#000" stroke-width="3"/>
<rect x="2101.12" y="2558.53" width="31.53" height="176.57" fill="#ea1a1c" stroke="#000" stroke-width="3"/>
<rect x="2138.65" y="2576.33" width="31.53" height="158.77" fill="#ea1a1c" stroke="#000" stroke-width="3"/>
<rect x="2176.18" y="2647.56" width="31.53" height="87.54" fill="#ea1a1c" stroke="#000" stroke-width="3"/>
<rect x="2213.71" y="2576.33" width="31.53" height="158.77" fill="#ea1a1c" stroke="#000" stroke-width="3"/>
<rect x="2251.24" y="2718.79" width="31.53" height="16.31" fill="#ea1a1c" stroke="#000" stroke-width="3"/>
<rect x="2326.3" y="2718.79" width="31.53" height="16.31" fill="#ea1a1c" stroke="#000" stroke-width="3"/>
<rect x="2363.83" y="2718.79" width="31.53" height="16.31" fill="#ea1a1c" stroke="#000" stroke-width="3"/>
<rect x="2438.89" y="2718.79" width="31.53" height="16.31" fill="#ea1a1c" stroke="#000" stroke-width="3"/>
<rect x="1575.7" y="3056.58" width="31.53" height="20.42" fill="#ef6e6e" stroke="#000" stroke-width="3"/>
<rect x="1650.76" y="2968.92" width="31.53" height="108.08" fill="#ef6e6e" stroke="#000" stroke-width="3"/>
<rect x="1688.29" y="3012.75" width="31.53" height="64.25" fill="#ef6e6e" stroke="#000" stroke-width="3"/>
<rect x="1725.82" y="3034.67" width="31.53" height="42.33" fill="#ef6e6e" stroke="#000" stroke-width="3"/>
<rect x="1763.35" y="3034.67" width="31.53" height="42.33" fill="#ef6e6e" stroke="#000" stroke-width="3"/>
<rect x="1800.88" y="3034.67" width="31.53" height="42.33" fill="#ef6e6e" stroke="#000" stroke-width="3"/>
<rect x="1838.41" y="3012.75" width="31.53" height="64.25" fill="#ef6e6e" stroke="#000" stroke-width="3"/>
<rect x="1875.94" y="2947" width="31.53" height="130" fill="#ef6e6e" stroke="#000" stroke-width="3"/>
<rect x="1913.47" y="2837.42" width="31.53" height="239.58" fill="#ef6e6e" stroke="#000" stroke-width="3"/>
<rect x="1951" y="2793.58" width="31.53" height="283.42" fill="#ef6e6e" stroke="#000" stroke-width="3"/>
<rect x="1988.53" y="2859.33" width="31.53" height="217.67" fill="#ef6e6e" stroke="#000" stroke-width="3"/>
<rect x="2026.06" y="2793.58" width="31.53" height="283.42" fill="#ef6e6e" stroke="#000" stroke-width="3"/>
<rect x="2063.59" y="2903.17" width="31.53" height="173.83" fill="#ef6e6e" stroke="#000" stroke-width="3"/>
<rect x="2101.12" y="3012.75" width="31.53" height="64.25" fill="#ef6e6e" stroke="#000" stroke-width="3"/>
<rect x="2138.65" y="2793.58" width="31.53" height="283.42" fill="#ef6e6e" stroke="#000" stroke-width="3"/>
<rect x="2176.18" y="2947" width="31.53" height="130" fill="#ef6e6e" stroke="#000" stroke-width="3"/>
<rect x="2213.71" y="2903.17" width="31.53" height="173.83" fill="#ef6e6e" stroke="#000" stroke-width="3"/>
<rect x="2251.24" y="3034.67" width="31.53" height="42.33" fill="#ef6e6e" stroke="#000" stroke-width="3"/>
<rect x="2288.77" y="3034.67" width="31.53" height="42.33" fill="#ef6e6e" stroke="#000" stroke-width="3"/>
<rect x="2326.3" y="3056.58" width="31.53" height="20.42" fill="#ef6e6e" stroke="#000" stroke-width="3"/>
<rect x="1613.23" y="3385.6" width="31.53" height="33.4" fill="#d9b499" stroke="#000" stroke-width="3"/>
<rect x="1650.76" y="3403.05" width="31.53" height="15.95" fill="#e8e2dc" stroke="#000" stroke-width="3"/>
<rect x="1688.29" y="3385.6" width="31.53" height="33.4" fill="#d9b499" stroke="#000" stroke-width="3"/>
<rect x="1725.82" y="3385.6" width="31.53" height="33.4" fill="#d9b499" stroke="#000" stroke-width="3"/>
<rect x="1763.35" y="3403.05" width="31.53" height="15.95" fill="#e8e2dc" stroke="#000" stroke-width="3"/>
<rect x="1800.88" y="3368.15" width="31.53" height="50.85" fill="#d9b499" stroke="#000" stroke-width="3"/>
<rect x="1838.41" y="3298.36" width="31.53" height="120.64" fill="#d9b499" stroke="#000" stroke-width="3"/>
<rect x="1875.94" y="3315.81" width="31.53" height="103.19" fill="#d9b499" stroke="#000" stroke-width="3"/>
<rect x="1913.47" y="3315.81" width="31.53" height="103.19" fill="#d9b499" stroke="#000" stroke-width="3"/>
<rect x="1951" y="3263.46" width="31.53" height="155.54" fill="#d9b499" stroke="#000" stroke-width="3"/>
<rect x="1988.53" y="3158.77" width="31.53" height="260.23" fill="#d9b499" stroke="#000" stroke-width="3"/>
<rect x="2026.06" y="3298.36" width="31.53" height="120.64" fill="#d9b499" stroke="#000" stroke-width="3"/>
<rect x="2063.59" y="3246.01" width="31.53" height="172.99" fill="#d9b499" stroke="#000" stroke-width="3"/>
<rect x="2101.12" y="3106.42" width="31.53" height="312.58" fill="#d9b499" stroke="#000" stroke-width="3"/>
<rect x="2138.65" y="3280.91" width="31.53" height="138.09" fill="#d9b499" stroke="#000" stroke-width="3"/>
<rect x="2176.18" y="3368.15" width="31.53" height="50.85" fill="#d9b499" stroke="#000" stroke-width="3"/>
<rect x="2213.71" y="3350.7" width="31.53" height="68.3" fill="#d9b499" stroke="#000" stroke-width="3"/>
<rect x="2251.24" y="3350.7" width="31.53" height="68.3" fill="#d9b499" stroke="#000" stroke-width="3"/>
<rect x="1613.23" y="3705.42" width="31.53" height="55.48" fill="#a0d09e" stroke="#000" stroke-width="3"/>
<rect x="1650.76" y="3733.91" width="31.53" height="26.99" fill="#a0d09e" stroke="#000" stroke-width="3"/>
<rect x="1688.29" y="3676.93" width="31.53" height="83.98" fill="#a0d09e" stroke="#000" stroke-width="3"/>
<rect x="1725.82" y="3705.42" width="31.53" height="55.48" fill="#a0d09e" stroke="#000" stroke-width="3"/>
<rect x="1763.35" y="3648.43" width="31.53" height="112.47" fill="#a0d09e" stroke="#000" stroke-width="3"/>
<rect x="1800.88" y="3648.43" width="31.53" height="112.47" fill="#a0d09e" stroke="#000" stroke-width="3"/>
<rect x="1838.41" y="3705.42" width="31.53" height="55.48" fill="#a0d09e" stroke="#000" stroke-width="3"/>
<rect x="1875.94" y="3534.47" width="31.53" height="226.43" fill="#a0d09e" stroke="#000" stroke-width="3"/>
<rect x="1913.47" y="3619.94" width="31.53" height="140.96" fill="#a0d09e" stroke="#000" stroke-width="3"/>
<rect x="1951" y="3619.94" width="31.53" height="140.96" fill="#a0d09e" stroke="#000" stroke-width="3"/>
<rect x="1988.53" y="3562.96" width="31.53" height="197.94" fill="#a0d09e" stroke="#000" stroke-width="3"/>
<rect x="2026.06" y="3534.47" width="31.53" height="226.43" fill="#a0d09e" stroke="#000" stroke-width="3"/>
<rect x="2063.59" y="3591.45" width="31.53" height="169.45" fill="#a0d09e" stroke="#000" stroke-width="3"/>
<rect x="2101.12" y="3448.99" width="31.53" height="311.91" fill="#a0d09e" stroke="#000" stroke-width="3"/>
<rect x="2138.65" y="3619.94" width="31.53" height="140.96" fill="#a0d09e" stroke="#000" stroke-width="3"/>
<rect x="2176.18" y="3619.94" width="31.53" height="140.96" fill="#a0d09e" stroke="#000" stroke-width="3"/>
<rect x="2213.71" y="3505.97" width="31.53" height="254.93" fill="#a0d09e" stroke="#000" stroke-width="3"/>
<rect x="2251.24" y="3477.48" width="31.53" height="283.42" fill="#a0d09e" stroke="#000" stroke-width="3"/>
<rect x="2288.77" y="3534.47" width="31.53" height="226.43" fill="#a0d09e" stroke="#000" stroke-width="3"/>
<rect x="2326.3" y="3705.42" width="31.53" height="55.48" fill="#a0d09e" stroke="#000" stroke-width="3"/>
<rect x="2363.83" y="3648.43" width="31.53" height="112.47" fill="#a0d09e" stroke="#000" stroke-width="3"/>
<rect x="2401.36" y="3705.42" width="31.53" height="55.48" fill="#a0d09e" stroke="#000" stroke-width="3"/>
<rect x="2438.89" y="3733.91" width="31.53" height="26.99" fill="#a0d09e" stroke="#000" stroke-width="3"/>
<rect x="2476.42" y="3733.91" width="31.53" height="26.99" fill="#a0d09e" stroke="#000" stroke-width="3"/>
<rect x="1575.7" y="4009.4" width="31.53" height="93.5" fill="#82dbbe" stroke="#000" stroke-width="3"/>
<rect x="1613.23" y="3977.73" width="31.53" height="125.17" fill="#82dbbe" stroke="#000" stroke-width="3"/>
<rect x="1650.76" y="4009.4" width="31.53" height="93.5" fill="#82dbbe" stroke="#000" stroke-width="3"/>
<rect x="1688.29" y="3977.73" width="31.53" height="125.17" fill="#82dbbe" stroke="#000" stroke-width="3"/>
<rect x="1725.82" y="3977.73" width="31.53" height="125.17" fill="#82dbbe" stroke="#000" stroke-width="3"/>
<rect x="1763.35" y="4009.4" width="31.53" height="93.5" fill="#82dbbe" stroke="#000" stroke-width="3"/>
<rect x="1800.88" y="4009.4" width="31.53" height="93.5" fill="#82dbbe" stroke="#000" stroke-width="3"/>
<rect x="1838.41" y="3851.07" width="31.53" height="251.83" fill="#82dbbe" stroke="#000" stroke-width="3"/>
<rect x="1875.94" y="3946.07" width="31.53" height="156.83" fill="#82dbbe" stroke="#000" stroke-width="3"/>
<rect x="1913.47" y="3882.73" width="31.53" height="220.17" fill="#82dbbe" stroke="#000" stroke-width="3"/>
<rect x="1951" y="4041.07" width="31.53" height="61.83" fill="#82dbbe" stroke="#000" stroke-width="3"/>
<rect x="1988.53" y="3914.4" width="31.53" height="188.5" fill="#82dbbe" stroke="#000" stroke-width="3"/>
<rect x="2026.06" y="3851.07" width="31.53" height="251.83" fill="#82dbbe" stroke="#000" stroke-width="3"/>
<rect x="2063.59" y="3914.4" width="31.53" height="188.5" fill="#82dbbe" stroke="#000" stroke-width="3"/>
<rect x="2101.12" y="3882.73" width="31.53" height="220.17" fill="#82dbbe" stroke="#000" stroke-width="3"/>
<rect x="2138.65" y="3819.4" width="31.53" height="283.5" fill="#82dbbe" stroke="#000" stroke-width="3"/>
<rect x="2176.18" y="3819.4" width="31.53" height="283.5" fill="#82dbbe" stroke="#000" stroke-width="3"/>
<rect x="2213.71" y="3914.4" width="31.53" height="188.5" fill="#82dbbe" stroke="#000" stroke-width="3"/>
<rect x="2251.24" y="3882.73" width="31.53" height="220.17" fill="#82dbbe" stroke="#000" stroke-width="3"/>
<rect x="2288.77" y="4041.07" width="31.53" height="61.83" fill="#82dbbe" stroke="#000" stroke-width="3"/>
<rect x="2326.3" y="4009.4" width="31.53" height="93.5" fill="#82dbbe" stroke="#000" stroke-width="3"/>
<rect x="2363.83" y="3787.73" width="31.53" height="315.17" fill="#82dbbe" stroke="#000" stroke-width="3"/>
<rect x="2401.36" y="3914.4" width="31.53" height="188.5" fill="#82dbbe" stroke="#000" stroke-width="3"/>
<rect x="2438.89" y="4072.73" width="31.53" height="30.17" fill="#82dbbe" stroke="#000" stroke-width="3"/>
<rect x="2476.42" y="4072.73" width="31.53" height="30.17" fill="#82dbbe" stroke="#000" stroke-width="3"/>
<rect x="2513.95" y="4041.07" width="31.53" height="61.83" fill="#82dbbe" stroke="#000" stroke-width="3"/>
<path d="M1572.7 2393.2H2549.5V4102.9H1572.7ZM1572.7 2735.1H2549.5M1572.7 3077H2549.5M1572.7 3419H2549.5M1572.7 3760.9H2549.5" stroke="#000" stroke-width="4.5" fill="none" stroke-linejoin="miter"/>
<text x="1553" y="2418.9" text-anchor="end">19.2</text>
<text x="1553" y="2499.1" text-anchor="end">14.4</text>
<text x="1553" y="2582" text-anchor="end">9.6</text>
<text x="1553" y="2662.3" text-anchor="end">4.8</text>
<text x="1553" y="2760.3" text-anchor="end">15.6</text>
<text x="1553" y="2844" text-anchor="end">11.7</text>
<text x="1553" y="2926" text-anchor="end">7.8</text>
<text x="1553" y="3006.3" text-anchor="end">3.9</text>
<text x="1553" y="3104.3" text-anchor="end">19.6</text>
<text x="1553" y="3187.3" text-anchor="end">14.7</text>
<text x="1553" y="3269.3" text-anchor="end">9.8</text>
<text x="1553" y="3350.8" text-anchor="end">4.9</text>
<text x="1553" y="3452.9" text-anchor="end">12</text>
<text x="1553" y="3534.7" text-anchor="end">9</text>
<text x="1553" y="3617.1" text-anchor="end">6</text>
<text x="1553" y="3699.1" text-anchor="end">3</text>
<text x="1553" y="3790" text-anchor="end">10.8</text>
<text x="1553" y="3871.6" text-anchor="end">8.1</text>
<text x="1553" y="3953.6" text-anchor="end">5.4</text>
<text x="1553" y="4036" text-anchor="end">2.7</text>
<text x="1553" y="4117.6" text-anchor="end">0</text>
<text x="1597" y="4177" text-anchor="middle">15</text>
<text x="1772" y="4177" text-anchor="middle">20</text>
<text x="1958" y="4177" text-anchor="middle">25</text>
<text x="2150" y="4177" text-anchor="middle">30</text>
<text x="2335" y="4177" text-anchor="middle">35</text>
<text x="2527" y="4177" text-anchor="middle">40</text>
<text x="2060" y="4259" text-anchor="middle">Body width / μm</text>
<text transform="translate(1400 3210) rotate(-90)" text-anchor="middle">Frequency</text>
<rect x="1669.25" y="2203.75" width="95" height="49.5" rx="3" fill="#ea1a1c" stroke="#000" stroke-width="3.5"/>
<text x="1771.5" y="2249">132 h</text>
<rect x="1949.75" y="2203.75" width="95" height="49.5" rx="3" fill="#ef6e6e" stroke="#000" stroke-width="3.5"/>
<text x="2052" y="2249">138 h</text>
<rect x="2239.75" y="2203.75" width="95" height="49.5" rx="3" fill="#d9b499" stroke="#000" stroke-width="3.5"/>
<text x="2342" y="2249">144 h</text>
<rect x="1669.25" y="2303.75" width="95" height="49.5" rx="3" fill="#a0d09e" stroke="#000" stroke-width="3.5"/>
<text x="1771.5" y="2347">150 h</text>
<rect x="1949.75" y="2303.75" width="95" height="49.5" rx="3" fill="#82dbbe" stroke="#000" stroke-width="3.5"/>
<text x="2052" y="2347">156 h</text>
<text x="2642" y="2243.5" text-anchor="middle" letter-spacing="4">(d)</text>
<text x="2640" y="2347" text-anchor="middle">TG11</text>
</svg></body></html>
